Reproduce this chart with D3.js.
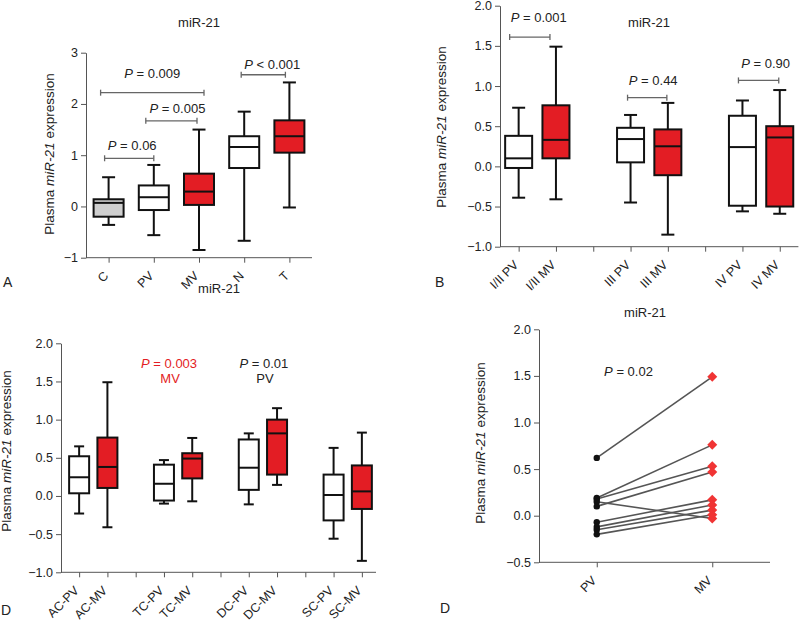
<!DOCTYPE html>
<html><head><meta charset="utf-8">
<script src="https://cdn.jsdelivr.net/npm/d3@7"></script>
<style>
body{margin:0;background:#fff}
text{font-family:"Liberation Sans",Arial,Helvetica,sans-serif;fill:#222}
</style></head><body>
<svg id="c" width="800" height="621"></svg>
<script>
// ---------- DATA ----------
const title = "miR-21";
// Panel A: [min, q1, median, q3, max]
const catsA = ["C","PV","MV","N","T"];
const boxA = [
  [-0.36,-0.20,0.07,0.14,0.57],
  [-0.56,-0.07,0.18,0.41,0.81],
  [-0.85,0.03,0.29,0.64,1.50],
  [-0.67,0.75,1.16,1.37,1.85],
  [-0.02,1.05,1.37,1.68,2.42]
];
const groupA = ["control","PV","MV","PV","MV"];
const ticksA = [-1,0,1,2,3];
const brA = [
  {a:0,b:1,y:0.94,op:"=",p:"0.06"},
  {a:0,b:2,y:2.22,op:"=",p:"0.009"},
  {a:1,b:2,y:1.67,op:"=",p:"0.005"},
  {a:3,b:4,y:2.57,op:"<",p:"0.001"}
];
// Panel B
const catsB = ["I/II PV","I/II MV","","III PV","III MV","","IV PV","IV MV"];
const boxB = [
  [-0.39,-0.02,0.10,0.38,0.73],
  [-0.41,0.10,0.33,0.76,1.49],
  null,
  [-0.45,0.05,0.34,0.48,0.64],
  [-0.85,-0.11,0.25,0.46,0.79],
  null,
  [-0.56,-0.49,0.24,0.63,0.82],
  [-0.59,-0.50,0.36,0.50,0.95]
];
const groupB = ["PV","MV","","PV","MV","","PV","MV"];
const ticksB = [-1,-0.5,0,0.5,1,1.5,2];
const brB = [
  {a:0,b:1,y:1.61,op:"=",p:"0.001"},
  {a:3,b:4,y:0.855,op:"=",p:"0.44"},
  {a:6,b:7,y:1.07,op:"=",p:"0.90"}
];
// Panel C
const catsC = ["AC-PV","AC-MV","","TC-PV","TC-MV","","DC-PV","DC-MV","","SC-PV","SC-MV"];
const boxC = [
  [-0.23,0.035,0.245,0.52,0.65],
  [-0.41,0.105,0.38,0.765,1.49],
  null,
  [-0.10,-0.06,0.16,0.41,0.47],
  [-0.07,0.23,0.49,0.56,0.76],
  null,
  [-0.11,0.08,0.37,0.74,0.82],
  [0.145,0.28,0.82,1.00,1.15],
  null,
  [-0.56,-0.32,0.013,0.28,0.63],
  [-0.85,-0.17,0.06,0.40,0.83]
];
const groupC = ["PV","MV","","PV","MV","","PV","MV","","PV","MV"];
const ticksC = [-1,-0.5,0,0.5,1,1.5,2];
const notesC = [
  {a:3,b:4,y:1.68,p:"0.003",sub:"MV",hl:true},
  {a:6,b:7,y:1.68,p:"0.01",sub:"PV",hl:false}
];
// Panel D (paired)
const catsD = ["PV","MV"];
const pvD = [0.62,0.19,0.18,0.15,0.10,-0.07,-0.12,-0.15,-0.20];
const mvD = [1.49,0.76,0.53,-0.03,0.47,0.17,0.115,0.06,0.01];
const ticksD = [-0.5,0,0.5,1,1.5,2];
const pD = {y:1.50,p:"0.02"};

// ---------- STYLE ----------
const RED = "#e31d24", GRAY = "#cfcfcf", AX = "#555";
const fill = g => g==="MV" ? RED : (g==="control" ? GRAY : "#fff");
const svg = d3.select("#c");
const fmt1 = d3.format(".1f"), fmt0 = d3.format("d");

function yLabel(g, x, y){
  const t = g.append("text").attr("transform",`translate(${x},${y}) rotate(-90)`)
    .attr("text-anchor","middle").style("font-size","13.5px");
  t.append("tspan").text("Plasma ");
  t.append("tspan").style("font-style","italic").text("miR-21");
  t.append("tspan").text(" expression");
}
function pText(g, x, y, op, p, color){
  const t = g.append("text").attr("x",x).attr("y",y).attr("text-anchor","middle")
    .style("font-size","13px").style("fill",color||"#222");
  t.append("tspan").style("font-style","italic").text("P");
  t.append("tspan").text(` ${op} ${p}`);
  return t;
}

function axes(g, cfg, cats, x, y){
  const ya = g.append("g").attr("transform",`translate(${cfg.ax0},0)`)
    .call(d3.axisLeft(y).tickValues(cfg.ticks).tickFormat(cfg.fmt).tickSize(5).tickSizeOuter(0).tickPadding(3));
  ya.selectAll("text").style("font-size","12.5px").style("font-family",'"Liberation Sans",Arial,sans-serif').attr("fill","#222");
  ya.selectAll("line,path").attr("stroke",AX);
  const xa = g.append("g").attr("transform",`translate(0,${cfg.yR[0]})`)
    .call(d3.axisBottom(x).tickSize(5).tickFormat(i=>cats[i]));
  xa.select(".domain").remove();
  xa.append("line").attr("x1",cfg.ax0).attr("x2",cfg.r[1]).attr("stroke",AX);
  xa.selectAll("line").attr("stroke",AX);
  xa.selectAll(".tick text").attr("x",0).attr("y",0).attr("dy",null)
    .attr("text-anchor","end").attr("transform",`translate(${cfg.lx},${cfg.ly}) rotate(-45)`)
    .style("font-size","12.5px").style("font-family",'"Liberation Sans",Arial,sans-serif').attr("fill","#222");
}

function boxPanel(cfg, cats, boxes, groups){
  const g = svg.append("g");
  const x = d3.scalePoint().domain(d3.range(cats.length)).range(cfg.r).padding(0.5);
  const y = d3.scaleLinear().domain(cfg.dom).range(cfg.yR);
  axes(g, cfg, cats, x, y);
  boxes.forEach((b,i)=>{
    if(!b) return;
    const cx = x(i), bw = cfg.bw, cw = cfg.cw;
    const bg = g.append("g").attr("stroke","#111").attr("stroke-width",2);
    bg.append("line").attr("x1",cx).attr("x2",cx).attr("y1",y(b[0])).attr("y2",y(b[4]));
    bg.append("line").attr("x1",cx-cw/2).attr("x2",cx+cw/2).attr("y1",y(b[0])).attr("y2",y(b[0]));
    bg.append("line").attr("x1",cx-cw/2).attr("x2",cx+cw/2).attr("y1",y(b[4])).attr("y2",y(b[4]));
    bg.append("rect").attr("x",cx-bw/2).attr("width",bw).attr("y",y(b[3])).attr("height",y(b[1])-y(b[3]))
      .attr("fill",fill(groups[i]));
    bg.append("line").attr("x1",cx-bw/2).attr("x2",cx+bw/2).attr("y1",y(b[2])).attr("y2",y(b[2]));
  });
  return {g,x,y};
}

function brackets(P, br, lay){
  br.forEach((d,i)=>{
    const L = lay[i];
    const x1 = P.x(d.a)+L[0], x2 = P.x(d.b)+L[1], yy = P.y(d.y);
    const bg = P.g.append("g").attr("stroke","#666").attr("stroke-width",1.3);
    bg.append("line").attr("x1",x1).attr("x2",x2).attr("y1",yy).attr("y2",yy);
    bg.append("line").attr("x1",x1).attr("x2",x1).attr("y1",yy-3).attr("y2",yy+3);
    bg.append("line").attr("x1",x2).attr("x2",x2).attr("y1",yy-3).attr("y2",yy+3);
    pText(P.g, (x1+x2)/2+L[2], yy-L[3], d.op, d.p);
  });
}

// ---------- PANEL A ----------
const A = boxPanel({ax0:86, r:[86,312], dom:[-1,3], yR:[257.7,52.7], ticks:ticksA, fmt:fmt0,
  bw:30, cw:13, lx:0, ly:19}, catsA, boxA, groupA);
brackets(A, brA, [[-4,0,3,8],[-8,5,0,15],[-8,-2,6,8],[-3,-4,9,6]]);
yLabel(svg, 54, 154);
svg.append("text").attr("x",199).attr("y",27).attr("text-anchor","middle").style("font-size","13px").text(title);
svg.append("text").attr("x",3).attr("y",287).style("font-size","14px").text("A");

// ---------- PANEL B ----------
const B = boxPanel({ax0:500, r:[500,798.4], dom:[-1,2], yR:[246.7,5.7], ticks:ticksB, fmt:fmt1,
  bw:27, cw:13, lx:0, ly:19}, catsB, boxB, groupB);
brackets(B, brB, [[-9,-6,9,15],[-3,-1,6,13],[-4,-1,7,12]]);
yLabel(svg, 446, 127);
svg.append("text").attr("x",649).attr("y",27).attr("text-anchor","middle").style("font-size","13px").text(title);
svg.append("text").attr("x",435).attr("y",287).style("font-size","14px").text("B");

// ---------- PANEL C ----------
const C = boxPanel({ax0:61, r:[65,376], dom:[-1,2], yR:[572.3,343.3], ticks:ticksC, fmt:fmt1,
  bw:20, cw:10, lx:0, ly:19}, catsC, boxC, groupC);
notesC.forEach((d,i)=>{
  const cx = (C.x(d.a)+C.x(d.b))/2 + (i===0?-9:1);
  const col = d.hl ? RED : "#222";
  pText(C.g, cx, C.y(d.y), "=", d.p, col);
  C.g.append("text").attr("x",cx+1).attr("y",C.y(d.y)+15).attr("text-anchor","middle")
    .style("font-size","13px").style("fill",col).text(d.sub);
});
yLabel(svg, 11, 451);
svg.append("text").attr("x",219).attr("y",293).attr("text-anchor","middle").style("font-size","13px").text(title);
svg.append("text").attr("x",1).attr("y",615).style("font-size","14px").text("D");

// ---------- PANEL D ----------
(function(){
  const cfg = {ax0:539, r:[539,770], yR:[562.3,329.3], ticks:ticksD, fmt:fmt1, lx:0, ly:19};
  const g = svg.append("g");
  const x = d3.scalePoint().domain(d3.range(catsD.length)).range(cfg.r).padding(0.5);
  const y = d3.scaleLinear().domain([-0.5,2]).range(cfg.yR);
  axes(g, cfg, catsD, x, y);
  const pairs = pvD.map((v,i)=>[v, mvD[i]]);
  g.append("g").selectAll("line").data(pairs).join("line")
    .attr("x1",x(0)).attr("x2",x(1)).attr("y1",d=>y(d[0])).attr("y2",d=>y(d[1]))
    .attr("stroke","#555").attr("stroke-width",1.6);
  g.append("g").selectAll("circle").data(pvD).join("circle")
    .attr("cx",x(0)).attr("cy",d=>y(d)).attr("r",3.2).attr("fill","#111");
  g.append("g").selectAll("path").data(mvD).join("path")
    .attr("transform",d=>`translate(${x(1)},${y(d)}) rotate(45)`)
    .attr("d",d3.symbol(d3.symbolSquare,50)).attr("fill","#f03434");
  pText(g, (x(0)+x(1))/2-26, y(pD.y), "=", pD.p);
  yLabel(svg, 485, 443);
  svg.append("text").attr("x",645).attr("y",317).attr("text-anchor","middle").style("font-size","13px").text(title);
  svg.append("text").attr("x",440).attr("y",613).style("font-size","14px").text("D");
})();
</script>
</body></html>
